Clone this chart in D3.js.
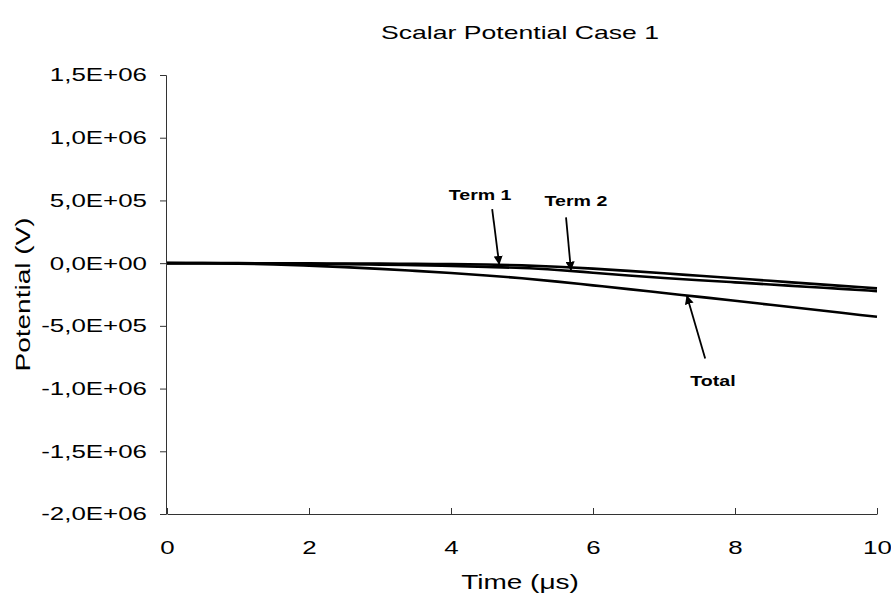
<!DOCTYPE html>
<html>
<head>
<meta charset="utf-8">
<script src="https://cdn.jsdelivr.net/npm/d3@7"></script>
<style>
  body { margin: 0; background: #fff; }
  text { font-family: "Liberation Sans", Arial, sans-serif; fill: #000; }
</style>
</head>
<body>
<div id="chart"></div>
<script>
// Datos
const time = [0, 0.5, 1, 1.5, 2, 2.5, 3, 3.5, 4, 4.5, 5, 5.5, 6, 6.5, 7, 7.5, 8, 8.5, 9, 9.5, 10];
const term1 = [0, 0, 0, -1e3, -2e3, -3e3, -4e3, -6e3, -8e3, -1.1e4, -1.8e4, -2.9e4, -4.4e4, -6.2e4, -8.1e4, -1.01e5, -1.21e5, -1.41e5, -1.61e5, -1.81e5, -2.01e5];
const term2 = [0, 0, -1e3, -3e3, -5e3, -8e3, -1.2e4, -1.7e4, -2.3e4, -3.0e4, -3.9e4, -5.5e4, -7.6e4, -9.8e4, -1.18e5, -1.36e5, -1.53e5, -1.7e5, -1.88e5, -2.05e5, -2.23e5];
const total = [0, -1e3, -4e3, -1.0e4, -2.0e4, -3.2e4, -4.6e4, -6.2e4, -7.9e4, -9.8e4, -1.2e5, -1.47e5, -1.77e5, -2.07e5, -2.38e5, -2.69e5, -3.0e5, -3.32e5, -3.64e5, -3.96e5, -4.28e5];

const xTicks = [0, 2, 4, 6, 8, 10];
const yTicks = [1.5e6, 1.0e6, 5e5, 0, -5e5, -1.0e6, -1.5e6, -2.0e6];

// Anotaciones: etiqueta, cola y punta de la flecha (en unidades de datos)
const notes = [
  {label: 'Term 1', lx: 4.41, ly: 5.0e5, tx: 4.58, ty: 4.3e5, hx: 4.68, hy: -1.4e4},
  {label: 'Term 2', lx: 5.76, ly: 4.55e5, tx: 5.62, ty: 3.65e5, hx: 5.69, hy: -6.0e4},
  {label: 'Total', lx: 7.69, ly: -9.8e5, tx: 7.58, ty: -7.6e5, hx: 7.32, hy: -2.55e5}
];

const width = 891, height = 601;
const margin = {left: 167, right: 14, top: 75, bottom: 87};
const sx = 1.4; // letra más ancha que la Liberation

const svg = d3.select('#chart').append('svg')
    .attr('width', width)
    .attr('height', height);

const x = d3.scaleLinear().domain([0, 10]).range([margin.left, width - margin.right]);
const y = d3.scaleLinear().domain([-2.0e6, 1.5e6]).range([height - margin.bottom, margin.top]);

function fmtE(v) {
    if (v === 0) return '0,0E+00';
    let e = Math.floor(Math.log10(Math.abs(v)));
    let m = v / Math.pow(10, e);
    return m.toFixed(1).replace('.', ',') + 'E+' + String(e).padStart(2, '0');
}

//Ejes
const gx = svg.append('g')
    .attr('transform', 'translate(0,' + y(-2.0e6) + ')')
    .call(d3.axisBottom(x).tickValues(xTicks).tickSizeInner(-6).tickSizeOuter(0).tickPadding(27).tickFormat(d3.format('d')));

const gy = svg.append('g')
    .attr('transform', 'translate(' + (x(0) - 1) + ',0)')
    .call(d3.axisLeft(y).tickValues(yTicks).tickSize(6).tickPadding(13).tickFormat(fmtE));

[gx, gy].forEach(g => {
    g.select('.domain').attr('stroke', '#333').attr('stroke-width', 1);
    g.selectAll('.tick line').attr('stroke', '#333');
    g.selectAll('.tick text')
        .style('font-size', '18.5px')
        .attr('fill', '#000')
        .attr('transform', 'scale(' + sx + ',1)');
});
gy.selectAll('.tick text').attr('x', -19 / sx);

//Curvas
const line = d3.line()
    .x((d, i) => x(time[i]))
    .y(d => y(d))
    .curve(d3.curveMonotoneX);

[term1, term2, total].forEach(s => {
    svg.append('path')
        .datum(s)
        .attr('fill', 'none')
        .attr('stroke', '#000')
        .attr('stroke-width', 2.6)
        .attr('d', line);
});

//Flechas
svg.append('defs').append('marker')
    .attr('id', 'arrow')
    .attr('viewBox', '0 0 10 10')
    .attr('refX', 10).attr('refY', 5)
    .attr('markerWidth', 9).attr('markerHeight', 9)
    .attr('markerUnits', 'userSpaceOnUse')
    .attr('orient', 'auto')
    .append('path')
    .attr('d', 'M0,0 L10,5 L0,10 Z')
    .attr('fill', '#000');

function stretched(px, py, extra) {
    return 'translate(' + px + ',' + py + ')' + (extra || '') + ' scale(' + sx + ',1)';
}

notes.forEach(n => {
    svg.append('line')
        .attr('x1', x(n.tx)).attr('y1', y(n.ty))
        .attr('x2', x(n.hx)).attr('y2', y(n.hy))
        .attr('stroke', '#000')
        .attr('stroke-width', 1.8)
        .attr('marker-end', 'url(#arrow)');
    svg.append('text')
        .attr('transform', stretched(x(n.lx), y(n.ly)))
        .attr('text-anchor', 'middle')
        .style('font-size', '14px')
        .style('font-weight', 'bold')
        .text(n.label);
});

//Títulos
svg.append('text')
    .attr('transform', stretched(520, 39))
    .attr('text-anchor', 'middle')
    .style('font-size', '19px')
    .text('Scalar Potential Case 1');

svg.append('text')
    .attr('transform', stretched(520, 589))
    .attr('text-anchor', 'middle')
    .style('font-size', '20px')
    .text('Time (\u03bcs)');

svg.append('text')
    .attr('transform', stretched(30, y(-0.25e6), ' rotate(-90)'))
    .attr('text-anchor', 'middle')
    .style('font-size', '20px')
    .text('Potential (V)');
</script>
</body>
</html>
